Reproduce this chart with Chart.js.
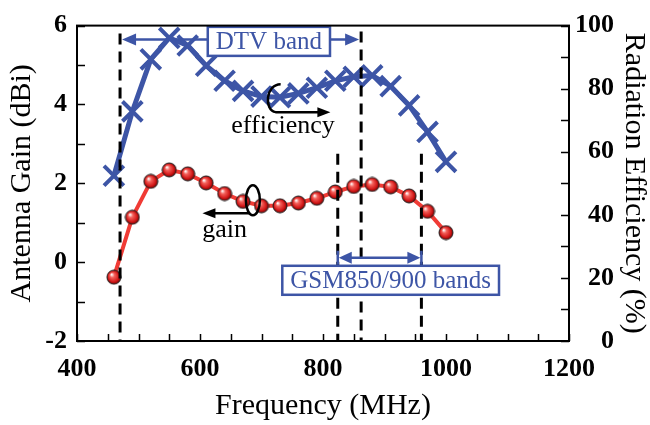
<!DOCTYPE html>
<html lang="en">
<head>
  <meta charset="UTF-8" />
  <title>Antenna gain / radiation efficiency</title>
  <script src="https://cdn.jsdelivr.net/npm/chart.js"></script>
  <style>
    html, body { margin: 0; padding: 0; background: #fff; }
  </style>
</head>
<body>
  <canvas id="graphe" width="650" height="425"></canvas>

<script>
  // values
  const frequencies = [460, 490, 520, 550, 580, 610, 640, 670, 700, 730, 760, 790, 820, 850, 880, 910, 940, 970, 1000];
  const gainDbi = [-0.38, 1.14, 2.05, 2.34, 2.24, 2.01, 1.74, 1.54, 1.43, 1.43, 1.50, 1.62, 1.78, 1.92, 1.97, 1.91, 1.68, 1.29, 0.75];
  const efficiencyPct = [52.4, 72.8, 89.3, 96.1, 93.7, 87.3, 82.5, 79.3, 77.5, 77.3, 78.5, 80.3, 82.5, 83.8, 84.2, 80.8, 74.7, 66.3, 56.8];

  const dtvBand = [470, 862];   // MHz
  const gsmBand = [824, 960];   // MHz

  const xTickLabels = [400, 600, 800, 1000, 1200];
  const gainTickLabels = [-2, 0, 2, 4, 6];
  const effTickLabels = [0, 20, 40, 60, 80, 100];

  const blue = '#3D55A6';
  const red = '#F03B35';
  const serif = '"Liberation Serif", "Times New Roman", serif';

  // little red ball used as point marker
  function sphere(r) {
    const c = document.createElement('canvas');
    const s = 2 * r + 2;
    c.width = c.height = s;
    const g = c.getContext('2d');
    const grad = g.createRadialGradient(s / 2 - r * 0.35, s / 2 - r * 0.4, r * 0.05, s / 2, s / 2, r);
    grad.addColorStop(0, '#ffffff');
    grad.addColorStop(0.3, '#f4625c');
    grad.addColorStop(0.75, '#d21818');
    grad.addColorStop(1, '#7a0000');
    g.fillStyle = grad;
    g.beginPath();
    g.arc(s / 2, s / 2, r, 0, 2 * Math.PI);
    g.fill();
    g.lineWidth = 1;
    g.strokeStyle = '#222';
    g.stroke();
    return c;
  }

  function arrowHead(ctx, x, y, dir, len, half) {
    ctx.beginPath();
    ctx.moveTo(x, y);
    ctx.lineTo(x - dir * len, y - half);
    ctx.lineTo(x - dir * len, y + half);
    ctx.closePath();
    ctx.fill();
  }

  function labelBox(ctx, text, cx, cy) {
    ctx.font = '25px ' + serif;
    const w = ctx.measureText(text).width + 16;
    const h = 29;
    ctx.fillStyle = '#fff';
    ctx.fillRect(cx - w / 2, cy - h / 2, w, h);
    ctx.strokeStyle = blue;
    ctx.lineWidth = 2.5;
    ctx.strokeRect(cx - w / 2, cy - h / 2, w, h);
    ctx.fillStyle = blue;
    ctx.textAlign = 'center';
    ctx.textBaseline = 'middle';
    ctx.fillText(text, cx, cy + 1);
  }

  // band markers, arrows and the notes
  const notesPlugin = {
    id: 'notes',
    afterDatasetsDraw(chart) {
      const { ctx, chartArea: a, scales: { x, y, y1 } } = chart;
      const px = f => x.getPixelForValue(f);
      const py = g => y.getPixelForValue(g);
      const pe = e => y1.getPixelForValue(e);
      ctx.save();

      // dashed band edges
      ctx.strokeStyle = '#000';
      ctx.lineWidth = 3;
      ctx.setLineDash([11, 7]);
      [[dtvBand[0], 5.8], [dtvBand[1], 5.85], [gsmBand[0], 2.75], [gsmBand[1], 2.75]].forEach(([f, top]) => {
        ctx.beginPath();
        ctx.moveTo(px(f), py(top));
        ctx.lineTo(px(f), a.bottom);
        ctx.stroke();
      });
      ctx.setLineDash([]);

      // DTV arrow
      ctx.strokeStyle = blue;
      ctx.fillStyle = blue;
      ctx.lineWidth = 2.5;
      let y0 = py(5.65);
      let x1 = px(dtvBand[0]) + 2, x2 = px(dtvBand[1]) - 2;
      ctx.beginPath(); ctx.moveTo(x1 + 10, y0); ctx.lineTo(x2 - 10, y0); ctx.stroke();
      arrowHead(ctx, x1, y0, -1, 14, 6);
      arrowHead(ctx, x2, y0, 1, 14, 6);
      labelBox(ctx, 'DTV band', px(712), py(5.6));

      // GSM arrow
      ctx.strokeStyle = blue;
      ctx.fillStyle = blue;
      ctx.lineWidth = 2.5;
      y0 = py(0.11);
      x1 = px(gsmBand[0]); x2 = px(gsmBand[1]);
      ctx.beginPath();
      ctx.moveTo(x1, y0 - 7); ctx.lineTo(x1, y0 + 7);
      ctx.moveTo(x2, y0 - 7); ctx.lineTo(x2, y0 + 7);
      ctx.moveTo(x1 + 10, y0); ctx.lineTo(x2 - 10, y0);
      ctx.stroke();
      arrowHead(ctx, x1 + 1, y0, -1, 13, 6);
      arrowHead(ctx, x2 - 1, y0, 1, 13, 6);
      labelBox(ctx, 'GSM850/900 bands', px(910), py(-0.46));

      // efficiency note (right axis)
      ctx.strokeStyle = '#000';
      ctx.fillStyle = '#000';
      ctx.lineWidth = 2.5;
      const ex = px(723), ey = pe(77);
      ctx.beginPath();
      ctx.moveTo(ex + 5, ey - 14);
      ctx.bezierCurveTo(ex - 10, ey - 14, ex - 12, ey + 12, ex, ey + 14);
      ctx.lineTo(px(805), ey + 14);
      ctx.stroke();
      arrowHead(ctx, px(812), ey + 14, 1, 13, 5);
      ctx.font = '26px ' + serif;
      ctx.textAlign = 'center';
      ctx.textBaseline = 'middle';
      ctx.fillText('efficiency', px(735), pe(68));

      // gain note (left axis)
      const gx = px(686), gy = py(1.57);
      ctx.beginPath();
      ctx.ellipse(gx, gy, 7, 15, 0, 0, 2 * Math.PI);
      ctx.stroke();
      ctx.beginPath();
      ctx.moveTo(gx - 3, gy + 13);
      ctx.lineTo(px(612), gy + 13);
      ctx.stroke();
      arrowHead(ctx, px(604), gy + 13, -1, 13, 5);
      ctx.fillText('gain', px(640), py(0.8));

      ctx.restore();
    },
    afterDraw(chart) {
      // frame + inward ticks
      const { ctx, chartArea: a, scales: { x, y, y1 } } = chart;
      ctx.save();
      ctx.strokeStyle = '#000';
      ctx.lineWidth = 1.5;
      ctx.beginPath();
      x.ticks.forEach(t => {
        const p = Math.round(x.getPixelForValue(t.value)) + 0.5;
        ctx.moveTo(p, a.bottom); ctx.lineTo(p, a.bottom - 7);
      });
      y.ticks.forEach(t => {
        const p = Math.round(y.getPixelForValue(t.value)) + 0.5;
        ctx.moveTo(a.left, p); ctx.lineTo(a.left + 8, p);
      });
      y1.ticks.forEach(t => {
        const p = Math.round(y1.getPixelForValue(t.value)) + 0.5;
        ctx.moveTo(a.right, p); ctx.lineTo(a.right - 8, p);
      });
      ctx.stroke();
      ctx.lineWidth = 2;
      ctx.strokeRect(a.left, a.top, a.right - a.left, a.bottom - a.top);
      ctx.restore();
    }
  };

  const tickFont = { family: serif, size: 26, weight: 'bold' };
  const titleFont = { family: serif, size: 30, lineHeight: 1.05 };

  new Chart(document.getElementById('graphe'), {
    type: 'line',
    data: {
      datasets: [{
        label: 'gain',
        data: frequencies.map((f, i) => ({ x: f, y: gainDbi[i] })),
        yAxisID: 'y',
        borderColor: red,
        borderWidth: 4,
        pointStyle: sphere(7),
        pointRadius: 7,
        tension: 0
      }, {
        label: 'efficiency',
        data: frequencies.map((f, i) => ({ x: f, y: efficiencyPct[i] })),
        yAxisID: 'y1',
        borderColor: blue,
        borderWidth: 5,
        pointStyle: 'crossRot',
        pointRadius: 14,
        pointBorderWidth: 4,
        pointBorderColor: blue,
        pointBackgroundColor: blue,
        tension: 0
      }]
    },
    options: {
      responsive: false,
      animation: false,
      layout: { padding: { top: 18 } },
      plugins: { legend: { display: false }, tooltip: { enabled: false } },
      scales: {
        x: {
          type: 'linear',
          min: 400, max: 1200,
          afterFit: s => { s.height = 84; },
          grid: { display: false, drawTicks: false },
          border: { display: false },
          ticks: {
            stepSize: 50, autoSkip: false, maxRotation: 0, padding: 13,
            color: '#000', font: tickFont,
            callback: v => xTickLabels.includes(v) ? v : ''
          },
          title: { display: true, text: 'Frequency (MHz)', color: '#000', font: titleFont, padding: { bottom: 3 } }
        },
        y: {
          position: 'left',
          min: -2, max: 6,
          afterFit: s => { s.width = 77; },
          grid: { display: false, drawTicks: false },
          border: { display: false },
          ticks: {
            stepSize: 1, autoSkip: false, padding: 10,
            color: '#000', font: tickFont,
            callback: v => gainTickLabels.includes(v) ? v : ''
          },
          title: { display: true, text: 'Antenna Gain (dBi)', color: '#000', font: titleFont, padding: { top: 6 } }
        },
        y1: {
          position: 'right',
          min: 0, max: 100,
          afterFit: s => { s.width = 81; },
          grid: { display: false, drawTicks: false },
          border: { display: false },
          ticks: {
            stepSize: 10, autoSkip: false, padding: 6, crossAlign: 'near',
            color: '#000', font: tickFont,
            // figure spaces keep the numbers right-aligned
            callback: v => effTickLabels.includes(v) ? String(v).padStart(3, '\u2007') : ''
          },
          title: { display: true, text: 'Radiation Efficiency (%)', color: '#000', font: titleFont, padding: { top: 0 } }
        }
      }
    },
    plugins: [notesPlugin]
  });
</script>
</body>
</html>
